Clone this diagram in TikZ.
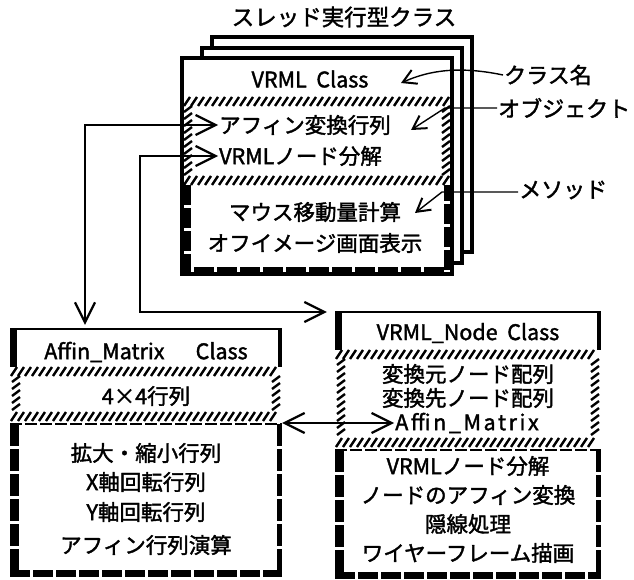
\documentclass[tikz,border=0pt]{standalone}
\usepackage{fontspec}
\setmainfont{Noto Sans CJK JP}[FakeBold=1.7]
\usetikzlibrary{arrows.meta,calc}
\newcommand\hatchH[3]{%
  \pgfmathtruncatemacro\hn{((#2)-(#1)-6)/7}%
  \foreach \i in {0,...,\hn}{\draw[hs] ({#1+\i*7},{#3+9}) -- ({#1+\i*7+6},{#3});}}
\newcommand\hatchV[3]{%
  \pgfmathtruncatemacro\hn{((#3)-(#2)-6)/7}%
  \foreach \i in {0,...,\hn}{\draw[hs] ({#1},{#2+\i*7+6}) -- ({#1+8},{#2+\i*7});}}
\begin{document}
\begin{tikzpicture}[x=1pt,y=-1pt,
  txt/.style={font=\fontsize{21.5}{24}\selectfont, inner sep=1pt},
  ttl/.style={font=\fontsize{22.5}{24}\selectfont, inner sep=1pt},
  lbl/.style={font=\fontsize{22}{24}\selectfont, anchor=west, inner sep=1pt},
  frame/.style={line width=3.5pt, fill=white},
  hs/.style={line width=2.4pt},
  mb/.style={line width=7pt, dash pattern=on 20pt off 3pt},
  thinb/.style={line width=2pt},
  dl/.style={line width=2pt, dash pattern=on 12pt off 3pt},
  conn/.style={line width=1.4pt},
  boxnode/.style={draw=none, inner sep=0, minimum width=#1}
]
\useasboundingbox[fill=white] (0,0) rectangle (634,580);

% ---------- top stack ----------
\draw[frame] (212,37) rectangle (472,252);
\draw[frame] (202,48) rectangle (462,263);
\draw[frame] (182,58) rectangle (452,274);
\node[boxnode=270pt, minimum height=216pt] (front) at (317,166) {};
\hatchH{184}{450}{97}
\hatchH{184}{450}{176}
\hatchV{184}{106}{176}
\hatchV{442}{106}{176}
\draw[mb] (187,185) -- (187,270) -- (447,270) -- (447,185);

\node[ttl] (title) at (344,17) {スレッド実行型クラス};
\node[txt] (t1) at (310,79) {VRML\ \ Class};
\node[txt, anchor=west] (o1) at (218,125) {アフィン変換行列};
\node[txt, anchor=west] (o2) at (218,156) {VRMLノード分解};
\node[txt] (m1) at (315,212) {マウス移動量計算};
\node[txt] (m2) at (315,243) {オフイメージ画面表示};

% labels
\node[lbl] (l1) at (503,75) {クラス名};
\node[lbl] (l2) at (497,108) {オブジェクト};
\node[lbl] (l3) at (518,190) {メソッド};
\coordinate (k1) at (401,83);
\coordinate (k2a) at (445,108);
\coordinate (k2) at (411,130);
\coordinate (k3a) at (442,192);
\coordinate (k3) at (415,213);
\draw[conn, -{Straight Barb[length=13pt,width=15pt,line width=2pt]}] (l1.west) .. controls (460,66) and (430,70) .. (k1);
\draw[conn, -{Straight Barb[length=13pt,width=15pt,line width=2pt]}] (l2.west) -- (k2a) -- (k2);
\draw[conn, -{Straight Barb[length=13pt,width=15pt,line width=2pt]}] (l3.west |- k3a) -- (k3a) -- (k3);

% ---------- Affin_Matrix box ----------
\node[boxnode=272pt, minimum height=248pt] (affin) at (146,453) {};
\draw[thinb] (10,329) -- (282,329);
\draw[line width=7pt] (13.5,328) -- (13.5,367);
\draw[line width=4pt] (280,328) -- (280,367);
\hatchH{11}{281}{367}
\hatchH{11}{281}{412}
\hatchV{12}{376}{412}
\hatchV{272}{376}{412}
\draw[dl] (10,424) -- (282,424);
\draw[line width=9pt, dash pattern=on 22pt off 3pt] (14.5,424) -- (14.5,577);
\draw[mb] (10,573.5) -- (282,573.5);
\draw[line width=5pt, dash pattern=on 22pt off 3pt] (279.5,424) -- (279.5,577);

\node[txt] (at) at (146,352) {Affin\_Matrix\quad\ \ Class};
\node[txt] (a1) at (146,396) {4×4行列};
\node[txt] (am1) at (146,453) {拡大・縮小行列};
\node[txt] (am2) at (146,482) {X軸回転行列};
\node[txt] (am3) at (146,512) {Y軸回転行列};
\node[txt] (am4) at (146,545) {アフィン行列演算};

% ---------- VRML_Node box ----------
\node[boxnode=266pt, minimum height=266pt] (vnode) at (468,445) {};
\draw[thinb] (335,312) -- (601,312);
\draw[line width=7pt] (338.5,311) -- (338.5,350);
\draw[line width=4pt] (599,311) -- (599,350);
\hatchH{336}{600}{350}
\hatchH{336}{600}{438}
\hatchV{337}{359}{438}
\hatchV{591}{359}{438}
\draw[dl] (335,450) -- (601,450);
\draw[line width=9pt, dash pattern=on 22pt off 3pt] (339.5,450) -- (339.5,578);
\draw[mb] (335,575) -- (601,575);
\draw[line width=5pt, dash pattern=on 22pt off 3pt] (598.5,450) -- (598.5,578);

\node[txt] (vt) at (468,333) {VRML\_Node\ \ Class};
\node[txt] (v1) at (468,374) {変換元ノード配列};
\node[txt] (v2) at (468,398) {変換先ノード配列};
\node[txt] (o3) at (467,423) {\addfontfeature{LetterSpace=12}Affin\_Matrix};
\node[txt] (vm1) at (468,466) {VRMLノード分解};
\node[txt] (vm2) at (468,495) {ノードのアフィン変換};
\node[txt] (vm3) at (468,524) {隠線処理};
\node[txt] (vm4) at (468,553) {ワイヤーフレーム描画};

% ---------- connectors ----------
\coordinate (c1) at (85,125);
\coordinate (c2) at (140,156);
\coordinate (c2b) at (140,312);
\draw[conn, {Straight Barb[length=20pt,width=20pt,line width=2.2pt]}-{Straight Barb[length=20pt,width=20pt,line width=2.2pt]}, shorten >=4pt] (o1.west) -- (o1.west -| c1) -- (c1 |- affin.north);
\draw[conn, {Straight Barb[length=20pt,width=20pt,line width=2.2pt]}-{Straight Barb[length=20pt,width=20pt,line width=2.2pt]}, shorten >=8pt] (o2.west) -- (o2.west -| c2) -- (c2b) -- (c2b -| vnode.west);
\draw[conn, {Straight Barb[length=20pt,width=20pt,line width=2.2pt]}-{Straight Barb[length=20pt,width=20pt,line width=2.2pt]}] (affin.east |- o3.west) -- (o3.west);
\end{tikzpicture}
\end{document}
